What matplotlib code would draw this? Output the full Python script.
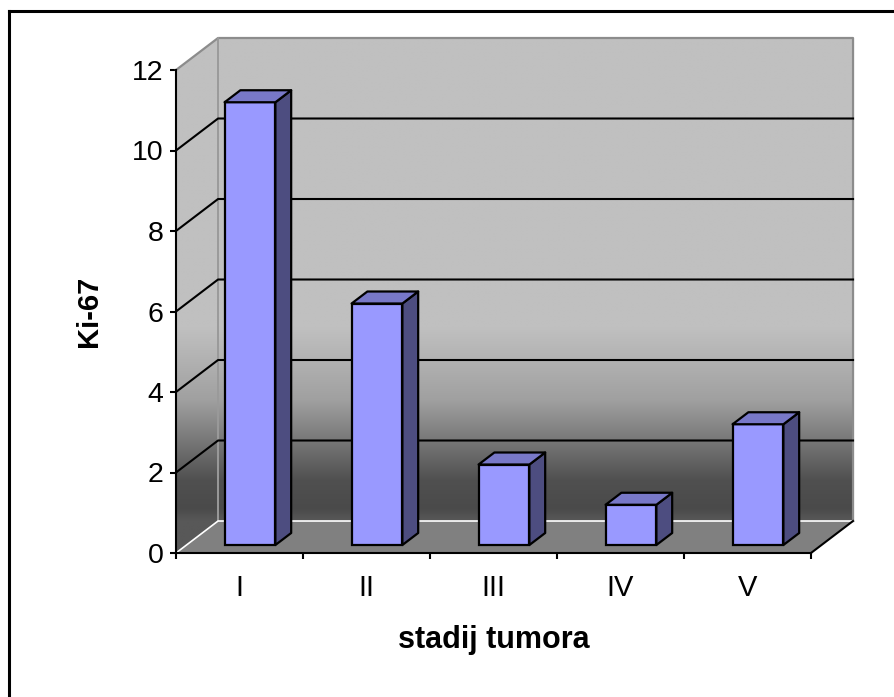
import numpy as np
import matplotlib.pyplot as plt
from matplotlib.patches import Polygon
from matplotlib.lines import Line2D

plt.rcParams['font.family'] = ['Liberation Sans', 'DejaVu Sans']

stages = ['I', 'II', 'III', 'IV', 'V']
ki67 = [11, 6, 2, 1, 3]
y_ticks = [0, 2, 4, 6, 8, 10, 12]

n = len(stages)
ymax = 12
# depth of the 3d box, in data units (x: categories, y: values)
ddx, ddy = 0.331, 0.795
front, back = 0.25, 0.625   # bar depth range, fraction of box depth
bar_w = 0.4

fig = plt.figure(figsize=(8.94, 6.97), dpi=100)
ax = fig.add_axes([176/894, 1 - 553/697, 635/894, 483/697])
ax.patch.set_visible(False)

# walls with vertical gradient
yy = np.linspace(0, ymax + ddy, 400)
shade = np.interp(yy - ddy, [0, 0.3, 1.0, 2.0, 3.0, 4.8],
                  [0x58, 0x4a, 0x50, 0x78, 0xa0, 0xc0]) / 255
img = np.repeat(np.repeat(shade[:, None], 2, axis=1)[:, :, None], 3, axis=2)
im = ax.imshow(img, extent=(0, n + ddx, 0, ymax + ddy), origin='lower',
               aspect='auto', interpolation='bilinear', zorder=0)
wall = Polygon([(0, 0), (0, ymax), (ddx, ymax + ddy), (n + ddx, ymax + ddy),
                (n + ddx, ddy), (ddx, ddy)], closed=True,
               transform=ax.transData)
im.set_clip_box(fig.bbox)
im.set_clip_path(wall)

# floor
ax.add_patch(Polygon([(0, 0), (n, 0), (n + ddx, ddy), (ddx, ddy)],
                     closed=True, fc='#808080', ec='none',
                     clip_on=False, zorder=1))

# wall edges
ax.plot([0, ddx, n + ddx, n + ddx], [ymax, ymax + ddy, ymax + ddy, ddy],
        color='#8c8c8c', lw=1.6, clip_on=False, zorder=2)
ax.plot([ddx, ddx], [ymax + ddy, ddy], color='#9a9a9a', lw=1.4,
        clip_on=False, zorder=2)
ax.plot([0, ddx, n + ddx], [0, ddy, ddy], color='white', lw=1.2,
        clip_on=False, zorder=2)
ax.plot([n, n + ddx], [0, ddy], color='black', lw=1.5,
        clip_on=False, zorder=2)

# gridlines on side and back wall
for v in y_ticks[1:-1]:
    ax.plot([0, ddx, n + ddx], [v, v + ddy, v + ddy], color='black',
            lw=1.5, clip_on=False, zorder=2)

# bars
centers = np.arange(n) + 0.5 + front * ddx
sx = (back - front) * ddx
sy = (back - front) * ddy
ax.bar(centers, ki67, width=bar_w, bottom=front * ddy, color='#9999ff',
       edgecolor='black', linewidth=1.6, zorder=3, clip_on=False)
for c, v in zip(centers, ki67):
    x0 = c - bar_w / 2
    x1 = c + bar_w / 2
    y0 = front * ddy
    top = v + front * ddy
    ax.add_patch(Polygon([(x1, y0), (x1, top), (x1 + sx, top + sy),
                          (x1 + sx, y0 + sy)], closed=True,
                         fc='#4d4d80', ec='black', lw=1.6,
                         joinstyle='round', zorder=3, clip_on=False))
    ax.add_patch(Polygon([(x0, top), (x1, top), (x1 + sx, top + sy),
                          (x0 + sx, top + sy)], closed=True,
                         fc='#7878c8', ec='black', lw=1.6,
                         joinstyle='round', zorder=3, clip_on=False))

ax.set_xlim(0, n)
ax.set_ylim(0, ymax)

for s in ['top', 'right']:
    ax.spines[s].set_visible(False)
for s in ['left', 'bottom']:
    ax.spines[s].set_linewidth(1.5)
    ax.spines[s].set_zorder(4)

ax.set_yticks(y_ticks)
ax.tick_params(axis='y', direction='out', length=4, width=1.5,
               labelsize=20.5, pad=5)
ax.set_xticks(np.arange(n + 1))
ax.set_xticklabels([])
ax.set_xticks(np.arange(n) + 0.5, minor=True)
ax.set_xticklabels(stages, minor=True)
ax.tick_params(axis='x', which='major', direction='out', length=4, width=1.5)
ax.tick_params(axis='x', which='minor', length=0, labelsize=21, pad=15)

ax.set_xlabel('stadij tumora', fontsize=22, fontweight='bold', labelpad=17)
ax.set_ylabel('Ki-67', fontsize=21, fontweight='bold', labelpad=21)

# chart frame (only top and left edges are visible)
fig.add_artist(Line2D([8.7/894, 8.7/894], [0, 1 - 11.3/697], color='black',
                      lw=2.2, transform=fig.transFigure))
fig.add_artist(Line2D([8.7/894, 1], [1 - 11.3/697, 1 - 11.3/697],
                      color='black', lw=2.2, transform=fig.transFigure))

fig.savefig('out.png', dpi=100)
